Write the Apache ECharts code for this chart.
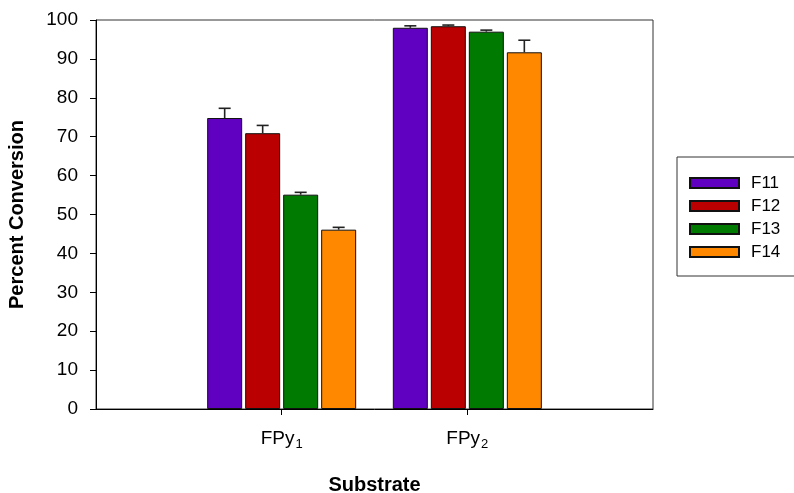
<!DOCTYPE html>
<html>
<head>
<meta charset="utf-8">
<script src="https://cdn.jsdelivr.net/npm/echarts@6/dist/echarts.min.js"></script>
<style>
  html, body { margin: 0; padding: 0; background: #fff; }
  #chart { width: 794px; height: 493px; }
</style>
</head>
<body>
<div id="chart"></div>
<script>
// Substrates on the x axis (base name + subscript)
const substrates = ['FPy', 'FPy'];
const subscripts = ['1', '2'];

// Catalyst series
const seriesNames = ['F11', 'F12', 'F13', 'F14'];
const seriesColors = ['#6000C0', '#BA0000', '#007A00', '#FF8800'];

// Percent conversion per substrate, one array per catalyst
const F11 = [74.8, 98.0];
const F12 = [70.9, 98.4];
const F13 = [55.1, 97.0];
const F14 = [46.1, 91.7];

// Upper error (standard deviation) per substrate
const F11err = [2.5, 0.5];
const F12err = [2.0, 0.3];
const F13err = [0.6, 0.4];
const F14err = [0.6, 3.1];

// Y axis ticks
const yMin = 0, yMax = 100, yStep = 10;

const values = [F11, F12, F13, F14];
const errors = [F11err, F12err, F13err, F14err];

// Category axis padded with empty slots so the substrates sit at 1/3 and 2/3
const axisData = ['', ...substrates.map((s, i) => s + '|' + subscripts[i]), ''];
const pad = arr => [null, ...arr, null];

const BAR_W = 35;
const BAR_GAP_PX = 3;
const FONT = 'Liberation Sans, Arial, sans-serif';

const chart = echarts.init(document.getElementById('chart'), null, { renderer: 'canvas' });

const barSeries = seriesNames.map((name, i) => ({
  name: name,
  type: 'bar',
  data: pad(values[i]),
  barWidth: BAR_W,
  barGap: (BAR_GAP_PX / BAR_W * 100) + '%',
  itemStyle: { color: seriesColors[i], borderColor: '#111', borderWidth: 1 },
  emphasis: { disabled: true },
  z: 2
}));

// Upper error bars drawn as a stem with a cap above each bar
const errSeries = seriesNames.map((name, i) => ({
  type: 'custom',
  name: name + ' error',
  data: values[i].map((v, k) => [k + 1, v, v + errors[i][k]]),
  encode: { x: 0, y: [1, 2] },
  z: 3,
  silent: true,
  renderItem: function (params, api) {
    const offset = (i - (seriesNames.length - 1) / 2) * (BAR_W + BAR_GAP_PX);
    const base = api.coord([api.value(0), api.value(1)]);
    const top = api.coord([api.value(0), api.value(2)]);
    const x = base[0] + offset;
    const half = 6;
    const style = { stroke: '#222', lineWidth: 1.6, fill: null };
    return {
      type: 'group',
      children: [
        { type: 'line', shape: { x1: x, y1: base[1], x2: x, y2: top[1] }, style: style },
        { type: 'line', shape: { x1: x - half, y1: top[1], x2: x + half, y2: top[1] }, style: style }
      ]
    };
  }
}));

chart.setOption({
  animation: false,
  backgroundColor: '#fff',
  textStyle: { fontFamily: FONT },
  grid: {
    left: 96, right: 141, top: 20, bottom: 84,
    outerBoundsMode: 'none',
    containLabel: false,
    show: true, borderColor: '#333', borderWidth: 1, backgroundColor: 'transparent'
  },
  legend: {
    orient: 'vertical',
    left: 677, top: 157,
    data: seriesNames,
    icon: 'rect',
    itemWidth: 49, itemHeight: 10, itemGap: 5,
    padding: [17, 60, 15, 12],
    borderColor: '#333', borderWidth: 1,
    selectedMode: false,
    textStyle: { fontSize: 17, color: '#000', lineHeight: 18, padding: [0, 0, 0, 7], fontFamily: FONT }
  },
  xAxis: {
    type: 'category',
    data: axisData,
    boundaryGap: false,
    name: 'Substrate',
    nameLocation: 'middle',
    nameGap: 66,
    nameTextStyle: { fontSize: 20, fontWeight: 'bold', color: '#000', fontFamily: FONT },
    axisLine: { lineStyle: { color: '#000', width: 1 } },
    axisTick: {
      show: true, length: 6, inside: false,
      interval: (idx, val) => val !== '',
      lineStyle: { color: '#000' }
    },
    axisLabel: {
      interval: 0,
      margin: 17,
      formatter: v => {
        if (!v) return '';
        const [b, s] = v.split('|');
        return '{a|' + b + '}{s|' + s + '}';
      },
      rich: {
        a: { fontSize: 19, color: '#000', fontFamily: FONT },
        s: { fontSize: 13, color: '#000', fontFamily: FONT, padding: [12, 0, 0, 1] }
      }
    },
    splitLine: { show: false }
  },
  yAxis: {
    type: 'value',
    min: yMin, max: yMax, interval: yStep,
    name: 'Percent Conversion',
    nameLocation: 'middle',
    nameGap: 69,
    nameTextStyle: { fontSize: 20, fontWeight: 'bold', color: '#000', fontFamily: FONT },
    axisLine: { show: true, lineStyle: { color: '#000', width: 1 } },
    axisTick: { show: true, length: 6, inside: false, lineStyle: { color: '#000' } },
    axisLabel: { fontSize: 19, color: '#000', margin: 18, fontFamily: FONT },
    splitLine: { show: false }
  },
  series: [...barSeries, ...errSeries]
});
</script>
</body>
</html>
